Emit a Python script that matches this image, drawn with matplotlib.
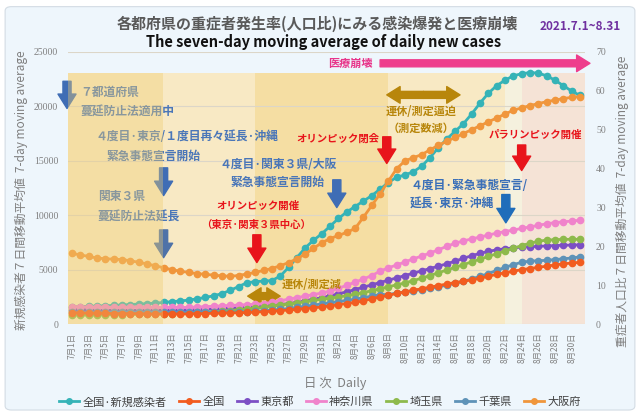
import numpy as np
import matplotlib
matplotlib.use("Agg")
import matplotlib.pyplot as plt
from matplotlib.patches import FancyBboxPatch
from matplotlib.lines import Line2D

plt.rcParams['font.family'] = ['Noto Sans CJK JP', 'DejaVu Sans']

# ---- data ----
days = [f"7月{d}日" for d in range(1, 32)] + [f"8月{d}日" for d in range(1, 32)]

# national 7-day average of new cases (left axis)
national_cases = [1590, 1610, 1640, 1660, 1690, 1720, 1760, 1800, 1840, 1880,
                  1930, 1990, 2060, 2130, 2200, 2320, 2450, 2600, 2800, 3100,
                  3450, 3800, 3900, 3950, 4000, 4400, 5200, 6100, 7000, 7700,
                  8300, 9000, 9700, 10300, 10800, 11300, 11800, 12400, 13000, 13500,
                  13700, 14000, 14500, 15300, 16200, 17000, 17700, 18400, 19300, 20300,
                  21200, 21900, 22400, 22800, 23000, 23100, 23050, 22800, 22400, 21900,
                  21400, 21000]

# severe-case ratio, 7-day average (right axis)
national = [2.9, 2.9, 2.8, 2.8, 2.8, 2.7, 2.7, 2.7, 2.7, 2.6, 2.6, 2.6, 2.6, 2.6, 2.6, 2.7,
            2.7, 2.8, 2.8, 2.9, 2.9, 3.0,
            3.1, 3.2, 3.3, 3.5, 3.6, 3.8, 4.0, 4.2,
            4.4, 4.7, 5.0, 5.3, 5.6, 6.0, 6.5, 7.0,
            7.4, 7.9, 8.3, 8.7, 9.1, 9.5, 9.9, 10.3,
            10.7, 11.0, 11.4, 11.8, 12.3, 12.8, 13.2, 13.6,
            14.0, 14.3, 14.6, 14.9, 15.2, 15.5, 15.7, 15.9]
tokyo = [3.7, 3.7, 3.7, 3.6, 3.6, 3.6, 3.6, 3.6, 3.6, 3.6, 3.6, 3.6, 3.6, 3.6, 3.7, 3.7,
         3.8, 3.9, 4.0, 4.1, 4.2, 4.3,
         4.4, 4.6, 4.8, 5.0, 5.3, 5.6, 6.0, 6.4,
         6.8, 7.3, 7.8, 8.3, 8.9, 9.5, 10.1, 10.7,
         11.3, 11.9, 12.5, 13.1, 13.7, 14.3, 14.9, 15.5,
         16.2, 16.9, 17.6, 18.2, 18.7, 19.1, 19.4, 19.6,
         19.8, 19.9, 20.0, 20.1, 20.2, 20.3, 20.3, 20.4]
kanagawa = [4.5, 4.5, 4.4, 4.4, 4.4, 4.3, 4.3, 4.4, 4.4, 4.3, 4.3, 4.3, 4.3, 4.3, 4.3, 4.4,
            4.5, 4.6, 4.7, 4.8, 4.9, 5.0,
            5.1, 5.3, 5.6, 6.0, 6.4, 6.8, 7.2, 7.6,
            8.0, 8.5, 9.2, 10.0, 10.8, 11.6, 12.5, 13.6,
            14.5, 15.2, 16.0, 16.8, 17.5, 18.3, 19.1, 20.0,
            20.8, 21.4, 21.9, 22.4, 22.9, 23.4, 23.8, 24.2,
            24.6, 25.0, 25.4, 25.8, 26.1, 26.3, 26.5, 26.7]
saitama = [2.3, 2.3, 2.3, 2.3, 2.4, 2.4, 2.4, 2.5, 2.5, 2.5, 2.6, 2.6, 2.7, 2.8, 2.9, 3.0,
           3.1, 3.2, 3.3, 3.5, 3.7, 3.9,
           4.1, 4.3, 4.6, 4.9, 5.2, 5.5, 5.8, 6.1,
           6.4, 6.7, 7.0, 7.3, 7.7, 8.1, 8.6, 9.1,
           9.6, 10.1, 10.6, 11.2, 11.8, 12.5, 13.2, 13.9,
           14.6, 15.3, 16.0, 16.7, 17.4, 18.1, 18.8, 19.5,
           20.2, 20.8, 21.3, 21.6, 21.7, 21.8, 21.8, 21.8]
chiba = [3.0, 3.0, 3.0, 3.0, 3.0, 3.0, 3.0, 3.0, 3.0, 3.0, 3.0, 3.0, 3.0, 3.0, 3.0, 3.0,
         3.0, 3.0, 3.0, 3.0, 3.1, 3.2,
         3.3, 3.4, 3.6, 3.8, 4.0, 4.3, 4.6, 4.9,
         5.2, 5.5, 5.8, 6.1, 6.4, 6.8, 7.2, 7.6,
         7.6, 8.0, 8.3, 8.6, 8.9, 9.2, 9.6, 10.0,
         10.5, 11.0, 11.6, 12.3, 13.0, 13.8, 14.6, 15.3,
         15.9, 16.2, 16.3, 16.4, 16.6, 16.8, 17.0, 17.3]
osaka = [18.2, 17.8, 17.4, 17.0, 16.8, 16.7, 16.6, 16.3, 15.9, 15.5, 15.0, 14.5, 14.0, 13.6, 13.3, 13.0,
         12.8, 12.6, 12.4, 12.3, 12.5, 12.9,
         13.3, 13.8, 14.3, 15.0, 15.8, 16.8, 18.0, 19.5,
         20.9, 22.0, 22.8, 23.6, 24.6, 27.5, 30.5, 33.5,
         36.8, 40.0, 42.0, 42.8, 43.6, 44.8, 46.0, 47.0,
         48.0, 49.0, 50.0, 51.0, 52.0, 53.0, 54.0, 55.0,
         55.6, 56.2, 56.7, 57.2, 57.6, 58.0, 58.3, 58.5]

labels = ['全国·新規感染者', '全国', '東京都', '神奈川県', '埼玉県', '千葉県', '大阪府']
colors = ['#35B3B7', '#F25C1F', '#7C4FC4', '#F083CB', '#8EBA4C', '#5F93B8', '#F0963C']

x = np.arange(len(days))

fig = plt.figure(figsize=(6.4, 4.15), dpi=100, facecolor='white')
fig.patches.append(FancyBboxPatch((0.008, 0.012), 0.984, 0.972, boxstyle="round,pad=0,rounding_size=0.01",
                                  transform=fig.transFigure, facecolor='#EEF6FC', edgecolor='#D3DCE4',
                                  lw=0.8, zorder=-10))

ax = fig.add_axes([0.106, 0.219, 0.808, 0.656])
ax.patch.set_visible(False)
ax2 = ax.twinx()

ax.set_xlim(-0.5, 61.6)
ax.set_ylim(0, 25000)
ax2.set_ylim(0, 70)

# background bands
band_top = 0.923
for a, b, c in [(-0.5, 10.9, '#F8E9C4'), (10.9, 22.0, '#F8E9C4'), (22.0, 37.9, '#F5DEA3'),
                (37.9, 52.0, '#F8E9C4'), (52.0, 54.0, '#F5F1DE'), (54.0, 61.6, '#F5E3D6')]:
    ax.axvspan(a, b, ymin=0, ymax=band_top, color=c, lw=0, zorder=0)
# semi-transparent overlay on the first period (covers text/lines as in the original)
ax2.axvspan(-0.5, 10.9, ymin=0, ymax=band_top, color='#F0CE72', alpha=0.38, lw=0, zorder=20)

ax.set_yticks(np.arange(0, 25001, 5000))
ax.yaxis.grid(True, color='#DCD6C8', lw=0.8, zorder=1)
ax.set_axisbelow(True)
ax2.set_yticks(np.arange(0, 71, 10))

for s in ax.spines.values():
    s.set_visible(False)
for s in ax2.spines.values():
    s.set_visible(False)

ax.tick_params(axis='both', length=0, colors='#808080')
ax2.tick_params(axis='both', length=0, colors='#808080')
for lab in ax.get_yticklabels() + ax2.get_yticklabels():
    lab.set_fontfamily('Liberation Serif')
    lab.set_fontsize(7)
ax.tick_params(axis='y', pad=7)
ax2.tick_params(axis='y', pad=8)
ax.set_xticks(x[::2])
ax.set_xticklabels(days[::2], rotation=90, fontsize=6, color='#808080')
ax.tick_params(axis='x', pad=6)

mk = dict(marker='o', markersize=4.5, lw=2.0)
ax.plot(x, national_cases, color=colors[0], zorder=5, **mk)
for vals, c, z in [(national, colors[1], 4), (tokyo, colors[2], 3), (kanagawa, colors[3], 3),
                   (saitama, colors[4], 3), (chiba, colors[5], 3), (osaka, colors[6], 5)]:
    ax2.plot(x, vals, color=c, zorder=z, **mk)

# ---- annotations (left-axis data coords) ----
def down_arrow(xd, y0, y1, c):
    ax.annotate('', xy=(xd, y1), xytext=(xd, y0), annotation_clip=False,
                arrowprops=dict(arrowstyle='simple,head_length=0.8,head_width=1.0,tail_width=0.45',
                                color=c, mutation_scale=13, shrinkA=0, shrinkB=0), zorder=8)

def hline_arrow(x0, x1, yv, c, ms=12):
    ax.annotate('', xy=(x1, yv), xytext=(x0, yv), annotation_clip=False,
                arrowprops=dict(arrowstyle='simple,head_length=0.8,head_width=1.0,tail_width=0.42',
                                color=c, mutation_scale=ms, shrinkA=0, shrinkB=0), zorder=8)

def txt(xd, yv, s, c, ha='left', fs=8.5):
    ax.text(xd, yv, s, color=c, ha=ha, va='center', fontsize=fs, fontweight='bold', zorder=8)

blue = '#4A76B8'
red = '#E8141B'
gold = '#B8860B'

down_arrow(-0.6, 22300, 19800, '#3F6DB5')
txt(1.0, 21300, '７都道府県', blue)
txt(1.0, 19500, '蔓延防止法適用中', blue)
txt(2.8, 17200, '４度目·東京/１度目再々延長·沖縄', blue)
txt(4.2, 15450, '緊急事態宣言開始', blue)
down_arrow(11.0, 14350, 11800, '#3F6DB5')
txt(3.1, 11700, '関東３県', blue)
txt(3.1, 9850, '蔓延防止法延長', blue)
down_arrow(11.0, 8650, 6100, '#4E72A8')

txt(22.3, 10850, 'オリンピック開催', red, ha='center', fs=7.5)
txt(22.1, 9100, '（東京·関東３県中心）', red, ha='center', fs=7.5)
down_arrow(22.2, 8200, 5650, red)

txt(24.7, 14700, '４度目·関東３県/大阪', blue, ha='center')
txt(24.7, 13050, '緊急事態宣言開始', blue, ha='center')
down_arrow(31.8, 13250, 10700, '#3F6DB5')

txt(31.9, 17000, 'オリンピック閉会', red, ha='center', fs=7.5)
down_arrow(37.8, 17200, 14750, red)

txt(33.4, 23950, '医療崩壊', '#E8358A', ha='center', fs=8)
hline_arrow(37.0, 62.2, 23950, '#EE3D8C')

hline_arrow(42.2, 37.8, 21050, gold)
hline_arrow(42.2, 46.6, 21050, gold)
txt(41.9, 19480, '連休/測定逼迫', gold, ha='center', fs=8)
txt(41.9, 18000, '（測定数減）', gold, ha='center', fs=8)

txt(40.6, 12700, '４度目·緊急事態宣言/', '#3A6FB8')
txt(40.6, 11050, '延長·東京·沖縄', '#3A6FB8')
down_arrow(52.1, 11900, 9300, '#1F6DBA')

txt(55.6, 17350, 'パラリンピック開催', red, ha='center', fs=7.5)
down_arrow(54.0, 16450, 14100, red)

hline_arrow(23.0, 21.1, 2570, gold)
hline_arrow(23.0, 25.0, 2570, gold)
# drawn on the twin axes so it sits above every line
ax2.text(25.2, 3600, '連休/測定減', color=gold, ha='left', va='center', fontsize=8,
         fontweight='bold', zorder=30, transform=ax.transData)

# ---- titles and axis labels ----
fig.text(0.496, 0.942, '各都府県の重症者発生率(人口比)にみる感染爆発と医療崩壊', ha='center', va='center',
         fontsize=10.8, fontweight='bold', color='#595959')
fig.text(0.505, 0.899, 'The seven-day moving average of daily new cases', ha='center', va='center',
         fontsize=10.5, fontweight='bold', color='#111111')
fig.text(0.906, 0.935, '2021.7.1~8.31', ha='center', va='center', fontsize=8.5, fontweight='bold',
         color='#7030A0')
fig.text(0.523, 0.077, '日 次  Daily', ha='center', va='center', fontsize=9, color='#7F7F7F')
fig.text(0.034, 0.542, '新規感染者７日間移動平均値  7-day moving average', rotation=90, ha='center',
         va='center', fontsize=8.5, color='#7F7F7F')
fig.text(0.972, 0.515, '重症者人口比７日間移動平均値  7-day moving average', rotation=90, ha='center',
         va='center', fontsize=8.5, color='#7F7F7F')

leg_handles = [Line2D([0], [0], color=c, marker='o', markersize=4, lw=2) for c in colors]
fig.legend(leg_handles, labels, loc='center', bbox_to_anchor=(0.5, 0.031), ncol=7, frameon=False,
           fontsize=8, handlelength=1.8, handletextpad=0.3, columnspacing=1.1, labelcolor='#404040')

fig.savefig('out.png', dpi=100, facecolor='white')
